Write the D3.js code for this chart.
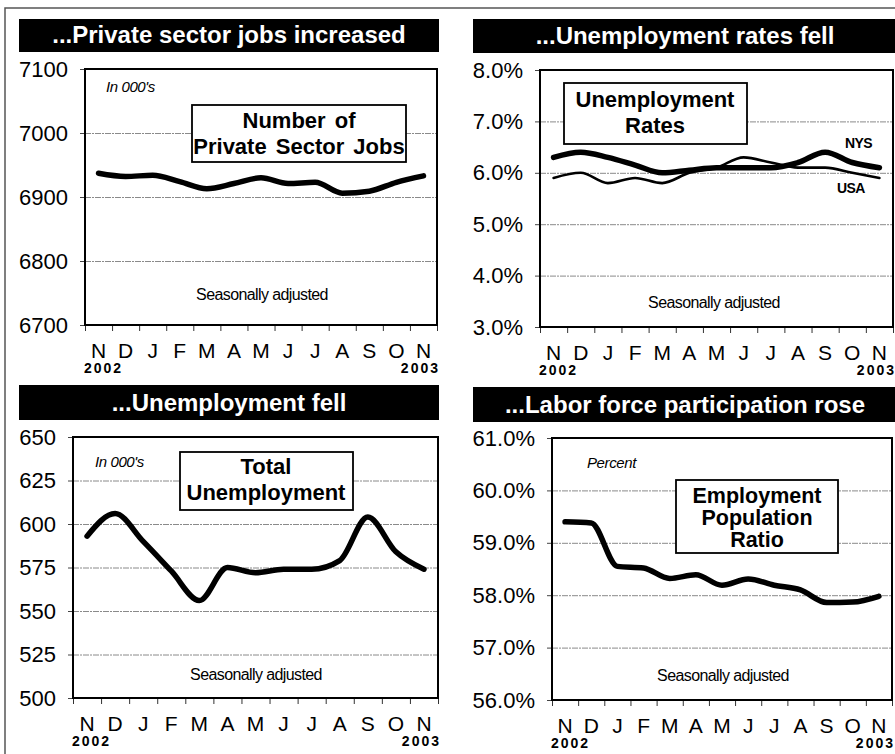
<!DOCTYPE html>
<html>
<head>
<meta charset="utf-8">
<script src="https://cdn.jsdelivr.net/npm/d3@7"></script>
<style>
  body { margin: 0; background: #fff; }
  svg { display: block; font-family: "Liberation Sans", Arial, sans-serif; }
</style>
</head>
<body>
<div id="chart"></div>
<script>
// month axis shared by all four panels (Nov 2002 .. Nov 2003)
const months = ["N", "D", "J", "F", "M", "A", "M", "J", "J", "A", "S", "O", "N"]
const yearStart = "2002"
const yearEnd = "2003"

// private sector jobs, in 000's
const privateJobs = [6937, 6932, 6934, 6924, 6913, 6921, 6930, 6921, 6923, 6906, 6909, 6923, 6933]
const jobsTicks = [6700, 6800, 6900, 7000, 7100]

// unemployment rates, percent
const nysRate = [6.3, 6.4, 6.3, 6.15, 6.0, 6.05, 6.1, 6.1, 6.1, 6.2, 6.4, 6.2, 6.1]
const usaRate = [5.9, 6.0, 5.8, 5.9, 5.8, 6.0, 6.1, 6.3, 6.2, 6.1, 6.1, 6.0, 5.9]
const rateTicks = [3, 4, 5, 6, 7, 8]

// total unemployment, in 000's
const totalUnemp = [593, 606, 590, 573, 556, 575, 572, 574, 574, 579, 604, 584, 574]
const unempTicks = [500, 525, 550, 575, 600, 625, 650]

// employment population ratio, percent
const empPopRatio = [59.4, 59.38, 58.55, 58.52, 58.32, 58.39, 58.19, 58.31, 58.19, 58.1, 57.86, 57.87, 57.98]
const ratioTicks = [56, 57, 58, 59, 60, 61]

const width = 895, height = 754

const svg = d3.select("#chart").append("svg")
    .attr("width", width)
    .attr("height", height)

// thin outer frame (top and left only, the rest is cropped)
svg.append("path")
    .attr("d", "M5,754V8H895")
    .attr("fill", "none")
    .attr("stroke", "#555")
    .attr("stroke-width", 1.5)

const pct = d => d3.format(".1f")(d) + "%"

function build_panel(opt) {
    const b = opt.box
    const x = d3.scaleBand().domain(d3.range(months.length)).range([b.x0, b.x1])
    const xTick = d3.scaleLinear().domain([0, months.length]).range([b.x0, b.x1])
    const y = d3.scaleLinear().domain(d3.extent(opt.ticks)).range([b.y1, b.y0])

    // black title bar
    svg.append("rect")
        .attr("x", opt.bar.x0).attr("y", opt.bar.y0)
        .attr("width", opt.bar.x1 - opt.bar.x0)
        .attr("height", opt.bar.y1 - opt.bar.y0)
        .attr("fill", "#000")
    svg.append("text")
        .attr("x", (opt.bar.x0 + opt.bar.x1) / 2)
        .attr("y", opt.bar.y1 - 9)
        .attr("text-anchor", "middle")
        .attr("fill", "#fff")
        .attr("font-weight", "bold")
        .attr("font-size", 24)
        .text(opt.title)

    // gridlines
    svg.append("g")
        .attr("transform", "translate(" + b.x0 + ",0)")
        .call(d3.axisLeft(y).tickValues(opt.ticks).tickSize(-(b.x1 - b.x0)).tickFormat(""))
        .call(g => g.select(".domain").remove())
        .call(g => g.selectAll("line").attr("stroke", "#8a8a8a").attr("stroke-width", 1)
            .attr("stroke-dasharray", "6,1,2,1"))

    // y labels with short outside ticks
    svg.append("g")
        .attr("transform", "translate(" + b.x0 + ",0)")
        .call(d3.axisLeft(y).tickValues(opt.ticks).tickSize(5).tickPadding(12).tickFormat(opt.format))
        .call(g => g.select(".domain").remove())
        .call(g => g.selectAll("line").attr("stroke", "#444"))
        .call(g => g.selectAll("text").attr("font-size", 22).attr("fill", "#000")
            .attr("font-family", "Liberation Sans, Arial, sans-serif"))

    // x tick marks at month boundaries
    svg.append("g")
        .attr("transform", "translate(0," + b.y1 + ")")
        .call(d3.axisBottom(xTick).tickValues(d3.range(months.length + 1)).tickSize(6).tickFormat(""))
        .call(g => g.select(".domain").remove())
        .call(g => g.selectAll("line").attr("stroke", "#333"))

    // month letters
    svg.append("g")
        .attr("transform", "translate(0," + (b.y1 + 33) + ")")
        .call(d3.axisBottom(x).tickSize(0).tickPadding(0).tickFormat(i => months[i]))
        .call(g => g.select(".domain").remove())
        .call(g => g.selectAll("text").attr("dy", 0).attr("font-size", 21).attr("fill", "#000")
            .attr("font-family", "Liberation Sans, Arial, sans-serif"))

    svg.append("text")
        .attr("x", b.x0 - 1).attr("y", b.y1 + 48)
        .attr("font-size", 14).attr("font-weight", "bold").attr("letter-spacing", 2)
        .text(yearStart)
    svg.append("text")
        .attr("x", b.x1 + 3).attr("y", b.y1 + 48)
        .attr("text-anchor", "end")
        .attr("font-size", 14).attr("font-weight", "bold").attr("letter-spacing", 2)
        .text(yearEnd)

    // plot frame
    svg.append("rect")
        .attr("x", b.x0).attr("y", b.y0)
        .attr("width", b.x1 - b.x0).attr("height", b.y1 - b.y0)
        .attr("fill", "none").attr("stroke", "#000").attr("stroke-width", 2)

    // series
    const line = d3.line()
        .x((d, i) => x(i) + x.bandwidth() / 2)
        .y(d => y(d))
        .curve(d3.curveMonotoneX)
    opt.series.forEach(s => {
        svg.append("path")
            .datum(s.values)
            .attr("d", line)
            .attr("fill", "none")
            .attr("stroke", "#000")
            .attr("stroke-width", s.width)
            .attr("stroke-linejoin", "round")
            .attr("stroke-linecap", "round")
    })

    // boxed chart name
    const nb = opt.nameBox
    svg.append("rect")
        .attr("x", nb.x0).attr("y", nb.y0)
        .attr("width", nb.x1 - nb.x0).attr("height", nb.y1 - nb.y0)
        .attr("fill", "#fff").attr("stroke", "#000").attr("stroke-width", 1.8)
    nb.lines.forEach((t, i) => {
        svg.append("text")
            .attr("x", nb.cx).attr("y", nb.base[i])
            .attr("text-anchor", "middle")
            .attr("font-size", nb.size || 22).attr("font-weight", "bold")
            .attr("word-spacing", 3)
            .text(t)
    })

    if (opt.unit) {
        svg.append("text")
            .attr("x", opt.unit.x).attr("y", opt.unit.y)
            .attr("font-size", 15).attr("font-style", "italic")
            .attr("letter-spacing", -0.4)
            .text(opt.unit.text)
    }

    svg.append("text")
        .attr("x", opt.note.x).attr("y", opt.note.y)
        .attr("text-anchor", "middle")
        .attr("font-size", 16).attr("letter-spacing", -0.6)
        .text("Seasonally adjusted")

    return { x, y }
}

build_panel({
    title: "...Private sector jobs increased",
    bar: { x0: 19, x1: 439, y0: 19, y1: 52 },
    box: { x0: 85, x1: 437, y0: 69, y1: 325 },
    ticks: jobsTicks,
    format: d3.format("d"),
    series: [{ values: privateJobs, width: 5.5 }],
    nameBox: { x0: 192, x1: 406, y0: 105, y1: 162, cx: 299, base: [128, 154],
        lines: ["Number of", "Private Sector Jobs"] },
    unit: { x: 106, y: 92, text: "In 000's" },
    note: { x: 262, y: 300 }
})

build_panel({
    title: "...Unemployment rates fell",
    bar: { x0: 473, x1: 897, y0: 19, y1: 53 },
    box: { x0: 540, x1: 893, y0: 70, y1: 327 },
    ticks: rateTicks,
    format: pct,
    series: [{ values: usaRate, width: 2.6 }, { values: nysRate, width: 5.5 }],
    nameBox: { x0: 564, x1: 747, y0: 83, y1: 144, cx: 655, base: [107, 133],
        lines: ["Unemployment", "Rates"] },
    note: { x: 714, y: 308 }
})

// series labels for the rates panel
svg.append("text").attr("x", 845).attr("y", 148)
    .attr("font-size", 14).attr("font-weight", "bold").attr("letter-spacing", -0.6)
    .text("NYS")
svg.append("text").attr("x", 837).attr("y", 193)
    .attr("font-size", 14).attr("font-weight", "bold").attr("letter-spacing", -0.6)
    .text("USA")

build_panel({
    title: "...Unemployment fell",
    bar: { x0: 19, x1: 439, y0: 385, y1: 420 },
    box: { x0: 73, x1: 438, y0: 437, y1: 698 },
    ticks: unempTicks,
    format: d3.format("d"),
    series: [{ values: totalUnemp, width: 5.5 }],
    nameBox: { x0: 180, x1: 353, y0: 452, y1: 510, cx: 266, base: [474, 500],
        lines: ["Total", "Unemployment"] },
    unit: { x: 95, y: 467, text: "In 000's" },
    note: { x: 256, y: 680 }
})

build_panel({
    title: "...Labor force participation rose",
    bar: { x0: 473, x1: 897, y0: 387, y1: 422 },
    box: { x0: 552, x1: 892, y0: 438, y1: 700 },
    ticks: ratioTicks,
    format: pct,
    series: [{ values: empPopRatio, width: 5.5 }],
    nameBox: { x0: 676, x1: 838, y0: 480, y1: 553, cx: 757, base: [503, 525, 547], size: 21.5,
        lines: ["Employment", "Population", "Ratio"] },
    unit: { x: 587, y: 468, text: "Percent" },
    note: { x: 723, y: 681 }
})
</script>
</body>
</html>
